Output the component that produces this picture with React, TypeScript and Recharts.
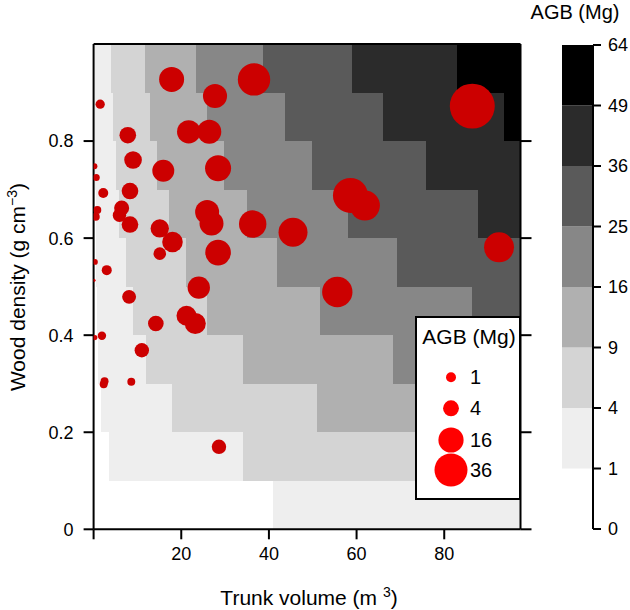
import React from 'react';
import { ScatterChart, Scatter, XAxis, YAxis, ReferenceArea, BarChart, Bar, Label } from 'recharts';

const FONT = '"Liberation Sans", Arial, sans-serif';

// trees: trunk volume (m3), wood density (g cm-3), AGB (Mg)
const volume = [17.8, 36.6, 27.7, 1.5, 7.8, 21.7, 26.4, 9.0, 15.9, 28.4, 0.2, 0.6, 2.2, 8.3, 0.85, 0.5, 6.4, 5.9, 8.3, 15.1, 18.0, 15.1, 25.9, 26.9, 36.3, 45.5, 28.4, 3.0, 0.3, 24.0, 86.4, 58.6, 61.9, 92.5, 55.6, 0.1, 8.1, 14.2, 21.2, 23.2, 1.9, 0.3, 11.0, 2.5, 2.3, 8.6, 28.6];
const density = [0.927, 0.927, 0.893, 0.876, 0.812, 0.819, 0.819, 0.761, 0.739, 0.744, 0.748, 0.725, 0.693, 0.697, 0.658, 0.644, 0.662, 0.647, 0.628, 0.62, 0.592, 0.568, 0.654, 0.63, 0.629, 0.612, 0.57, 0.534, 0.551, 0.498, 0.872, 0.688, 0.667, 0.581, 0.489, 0.513, 0.479, 0.424, 0.44, 0.424, 0.399, 0.395, 0.369, 0.305, 0.299, 0.304, 0.17];
const agb = [15.6, 34, 14, 0.8, 4.6, 12.8, 13.8, 5.5, 10.6, 17.6, 0.2, 0.35, 1, 4.6, 0.5, 0.5, 3.4, 2.4, 4.6, 6.2, 8.7, 2, 13.8, 13.8, 20.6, 24.4, 16.8, 1, 0.2, 11.2, 91, 43, 27, 27, 28, 0.03, 2.7, 3.8, 8, 9.3, 0.6, 0.13, 3, 0.5, 0.5, 0.5, 3];

// background level map: density rows (0.1 high), volume where each AGB class starts
const rowBottoms = [0, 0.1, 0.2, 0.3, 0.4, 0.5, 0.6, 0.7, 0.8, 0.9];
const rowLevelStarts = [
  [0, 41.0],
  [0, 3.5, 34.1],
  [0, 1.8, 17.9, 51.0],
  [0, 1.1, 12.0, 34.1, 68.4],
  [0, 0.7, 9.0, 25.9, 51.7, 86.4],
  [0, 0.6, 7.4, 21.1, 41.9, 69.3],
  [0, 0.5, 5.8, 17.2, 35.0, 58.1, 87.8],
  [0, 0.4, 5.1, 14.5, 29.8, 49.9, 75.9],
  [0, 0.4, 4.45, 12.9, 25.9, 43.7, 66.1, 93.7],
  [0, 0.3, 4.0, 11.8, 23.4, 38.7, 59.0, 83.0],
];
const levelColors = ['#ffffff', '#eeeeee', '#d4d4d4', '#b0b0b0', '#878787', '#5a5a5a', '#2b2b2b', '#000000'];
const levelBreaks = [0, 1, 4, 9, 16, 25, 36, 49, 64];
const legendValues = [1, 4, 16, 36];
const xTicks = [0, 20, 40, 60, 80];
const yTicks = [0, 0.2, 0.4, 0.6, 0.8];

const X_MAX = 97.4;
const ROW_H = 0.1;

const bubbleR = (v: number) => 5 * Math.cbrt(v);

const points = volume.map((v, i) => ({ v, d: density[i], agb: agb[i] }));

const cells: { x1: number; x2: number; y1: number; y2: number; fill: string }[] = [];
rowLevelStarts.forEach((starts, r) => {
  starts.forEach((s, k) => {
    cells.push({
      x1: s,
      x2: k < starts.length - 1 ? starts[k + 1] : X_MAX,
      y1: rowBottoms[r],
      y2: rowBottoms[r] + ROW_H,
      fill: levelColors[k],
    });
  });
});

const colorbarRow: Record<string, string | number> = { k: 'cb' };
levelColors.forEach((_, i) => { colorbarRow['l' + i] = 1; });

const axisLine = { stroke: '#000', strokeWidth: 2 };
const tickStyle = { fill: '#000', fontSize: 18, fontFamily: FONT };

const CellShape = (p: any) => (
  <rect x={p.x} y={p.y} width={p.width} height={p.height} fill={p.fill} stroke="none" shapeRendering="crispEdges" />
);

const Dot = (p: any) => {
  const val = p.payload?.agb ?? p.agb;
  return <circle cx={p.cx} cy={p.cy} r={bubbleR(val)} fill="#cc0000" />;
};

const XTitle = (p: any) => {
  const vb = p.viewBox;
  return (
    <text x={vb.x + vb.width / 2 + 2} y={605} textAnchor="middle" fontSize={21} fontFamily={FONT} fill="#000">
      Trunk volume (m <tspan dy={-8} fontSize={14}>3</tspan><tspan dy={8}>)</tspan>
    </text>
  );
};

const YTitle = () => (
  <text x={25} y={287} transform="rotate(-90, 25, 287)" textAnchor="middle" fontSize={21} fontFamily={FONT} fill="#000">
    Wood density (g cm<tspan dy={-8} fontSize={14}>−3</tspan><tspan dy={8}>)</tspan>
  </text>
);

const CbTitle = () => (
  <text x={75} y={19} textAnchor="middle" fontSize={20} fontFamily={FONT} fill="#000">AGB (Mg)</text>
);

const BubbleLegend = () => (
  <div style={{ position: 'absolute', left: 415, top: 316, width: 106, height: 184, boxSizing: 'border-box', border: '2px solid #000', background: '#fff' }}>
    <svg width={102} height={180} style={{ position: 'absolute', left: -2, top: -2 }}>
      <text x={54} y={28} textAnchor="middle" fontSize={21} fontFamily={FONT} fill="#000">AGB (Mg)</text>
      {legendValues.map((v, i) => {
        const cy = [61.3, 92.3, 124, 154][i];
        return (
          <g key={v}>
            <circle cx={36} cy={cy} r={bubbleR(v)} fill="#ff0000" />
            <text x={55} y={cy + 7} fontSize={20} fontFamily={FONT} fill="#000">{v}</text>
          </g>
        );
      })}
    </svg>
  </div>
);

export default function App() {
  return (
    <div style={{ position: 'relative', width: 630, height: 610, background: '#fff' }}>
      <style>{'body{margin:0}'}</style>
      <ScatterChart width={630} height={610} margin={{ top: 34, right: 89.5, bottom: 40.7, left: 0 }}>
        <XAxis xAxisId="b" type="number" dataKey="v" domain={[0, X_MAX]} allowDataOverflow ticks={xTicks} interval={0}
          tickFormatter={(t: number) => (t === 0 ? '' : String(t))} height={40} tickSize={10} tickMargin={8}
          axisLine={axisLine} tickLine={axisLine} tick={tickStyle}>
          <Label content={XTitle} />
        </XAxis>
        <XAxis xAxisId="t" orientation="top" type="number" domain={[0, X_MAX]} allowDataOverflow ticks={xTicks} interval={0}
          tickFormatter={() => ''} height={10} tickSize={10} axisLine={axisLine} tickLine={axisLine} />
        <YAxis yAxisId="l" type="number" dataKey="d" domain={[0, 1]} allowDataOverflow ticks={yTicks} interval={0}
          width={93.6} tickSize={10} tickMargin={10} axisLine={axisLine} tickLine={axisLine} tick={tickStyle}>
          <Label content={YTitle} />
        </YAxis>
        <YAxis yAxisId="r" orientation="right" type="number" domain={[0, 1]} allowDataOverflow ticks={yTicks} interval={0}
          tickFormatter={() => ''} width={20} tickSize={11} axisLine={axisLine} tickLine={axisLine} />
        {cells.map((c, i) => (
          <ReferenceArea key={i} xAxisId="b" yAxisId="l" x1={c.x1} x2={c.x2} y1={c.y1} y2={c.y2}
            fill={c.fill} fillOpacity={1} stroke="none" shape={CellShape} />
        ))}
        <Scatter xAxisId="b" yAxisId="l" data={points} dataKey="d" shape={Dot} isAnimationActive={false} />
      </ScatterChart>

      <div style={{ position: 'absolute', left: 500, top: 0 }}>
        <BarChart width={130} height={610} data={[colorbarRow]} barCategoryGap={0}
          margin={{ top: 45, bottom: 81, left: 62, right: 0 }}>
          <XAxis dataKey="k" hide />
          <XAxis xAxisId="top" dataKey="k" orientation="top" height={0} tick={false} tickLine={false} axisLine={axisLine} />
          <YAxis yAxisId="left" orientation="left" width={0} domain={[0, 8]} tick={false} tickLine={false} axisLine={axisLine} />
          <YAxis orientation="right" type="number" domain={[0, 8]} ticks={[0, 1, 2, 3, 4, 5, 6, 7, 8]} interval={0}
            tickFormatter={(i: number) => String(levelBreaks[i])} width={37} tickSize={8} tickMargin={7}
            axisLine={axisLine} tickLine={axisLine} tick={tickStyle}>
            <Label content={CbTitle} />
          </YAxis>
          {levelColors.map((c, i) => (
            <Bar key={i} dataKey={'l' + i} stackId="a" fill={c} isAnimationActive={false} />
          ))}
        </BarChart>
      </div>

      <BubbleLegend />
    </div>
  );
}
